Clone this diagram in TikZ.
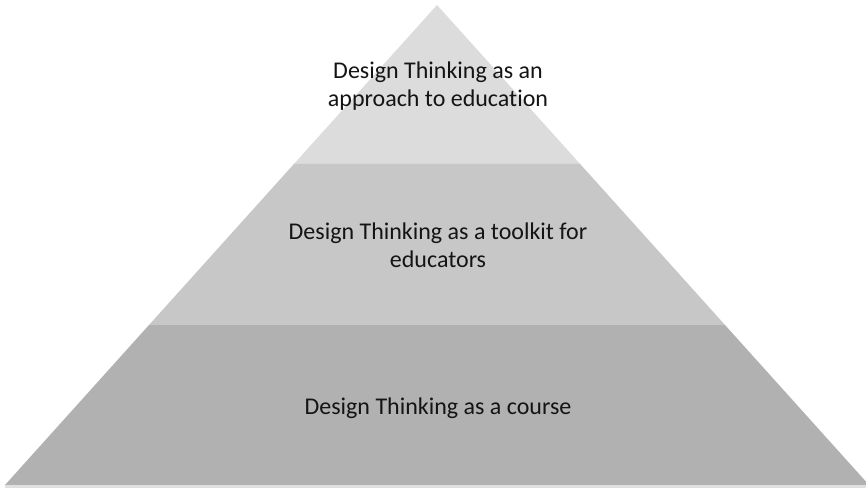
\documentclass[tikz,border=0pt]{standalone}
\usepackage{fontspec}
\setmainfont[Ligatures=NoCommon]{Carlito}
\usepackage{tikz}
\definecolor{p3gray}{RGB}{219,220,219}
\definecolor{p2gray}{RGB}{198,199,198}
\definecolor{p1gray}{RGB}{177,177,177}
\definecolor{p0text}{RGB}{20,20,20}
\tikzset{
    layertext/.style={text=p0text, align=center, font=\fontsize{24}{28}\selectfont},
}

\begin{document}
\begin{tikzpicture}[x=1pt,y=-1pt]
    % Define frame
    \useasboundingbox (0,0) rectangle (866,489);
    \clip (0,0) rectangle (866,489);

    % Draw the layers
    \fill[p3gray] (437,5) -- (580.1,164) -- (293.9,164) -- cycle;
    \fill[p2gray] (293.9,164) -- (580.1,164) -- (725,325) -- (149,325) -- cycle;
    \fill[p1gray] (149,325) -- (725,325) -- (869,485) -- (5,485) -- cycle;
    \fill[p1gray!40] (5,485) rectangle (869,488);

    % Draw the labels
    \node[layertext] (top) at (438,86) {Design Thinking as an\\approach to education};
    \node[layertext] (middle) at (438,245) {Design Thinking as a toolkit for\\educators};
    \node[layertext] (bottom) at (438,408) {Design Thinking as a course};
\end{tikzpicture}
\end{document}
